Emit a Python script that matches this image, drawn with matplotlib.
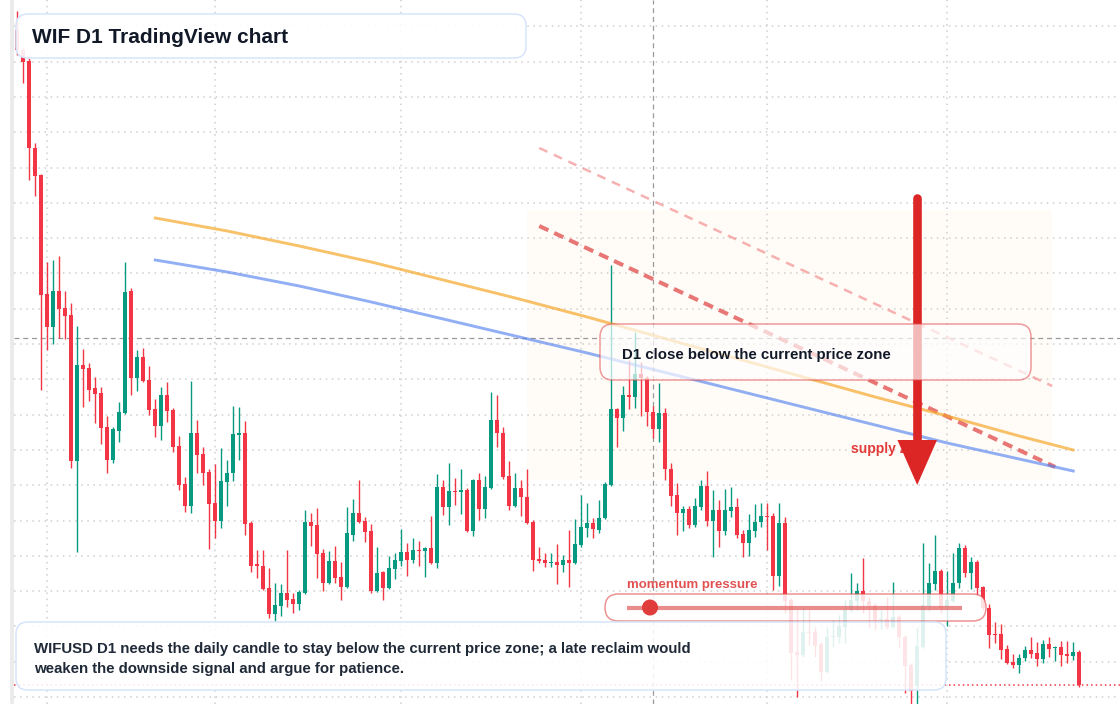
import numpy as np
import pandas as pd
import matplotlib
matplotlib.use('Agg')
from matplotlib import pyplot as plt
from matplotlib.lines import Line2D
from matplotlib.patches import Circle, FancyBboxPatch, Rectangle

plt.rcParams['font.family'] = ['Liberation Sans', 'DejaVu Sans']

# WIFUSD daily candles, prices in 0.001 USD, first candle 2025-01-27
start_day = '2025-01-27'
opens = [970,950,939,852,825,706,673,709,692,685,
         539,635,632,612,607,573,540,569,587,709,
         622,643,620,591,574,605,590,554,516,494,
         567,546,528,497,479,518,527,565,567,477,
         436,434,412,386,394,407,401,396,407,478,
         475,447,417,439,423,413,465,487,479,469,
         409,428,412,431,439,448,440,450,449,452,
         437,513,493,509,508,510,469,520,491,512,
         580,567,524,494,512,503,478,441,440,437,
         438,435,440,437,455,472,477,470,482,515,
         591,582,605,603,626,622,588,571,587,531,
         505,487,491,475,493,514,479,490,469,489,
         493,466,457,469,478,484,484,424,477,400,
         348,345,368,368,356,328,363,363,373,390,
         399,409,399,395,380,381,373,383,363,335,
         314,353,394,416,429,393,399,417,452,427,
         438,413,392,366,366,351,338,335,342,350,
         347,341,356,352,353,346,344,348]
highs = [989,952,942,857,826,738,740,744,709,697,
         674,651,637,623,613,584,573,598,738,712,
         650,652,634,601,613,618,592,564,523,619,
         580,553,531,536,552,540,594,593,579,479,
         450,450,432,417,416,450,407,410,490,487,
         492,451,449,454,438,493,501,520,483,476,
         453,429,444,447,471,457,462,459,453,484,
         526,520,537,522,531,512,521,527,524,608,
         605,573,539,527,520,531,480,453,447,447,
         456,445,470,481,505,497,482,500,518,735,
         592,614,640,668,638,624,594,617,592,537,
         517,494,494,502,520,529,510,500,511,513,
         502,470,486,496,497,497,487,497,483,402,
         390,393,390,373,358,373,380,385,400,427,
         417,442,403,397,390,403,418,385,365,337,
         373,457,437,465,431,429,447,457,455,443,
         440,414,396,378,376,355,346,346,354,363,
         358,360,363,354,359,359,358,350]
lows = [945,917,820,804,610,650,656,662,661,532,
        448,593,599,577,556,527,537,558,586,605,
        609,618,585,563,560,578,548,510,488,487,
        527,515,451,462,472,494,519,540,465,428,
        422,410,382,379,384,393,387,390,406,454,
        422,409,416,417,400,412,459,477,458,407,
        408,400,411,421,434,424,437,434,423,436,
        432,485,475,495,486,468,464,480,482,511,
        553,521,490,493,484,476,429,437,433,433,
        416,428,413,436,453,463,462,467,481,514,
        553,569,591,592,584,574,562,558,520,494,
        465,469,472,473,490,474,443,453,465,483,
        462,443,444,463,473,450,410,414,387,320,
        303,343,355,343,319,327,353,357,357,388,
        390,387,372,370,371,371,372,353,307,290,
        290,352,389,410,387,374,398,412,423,411,
        405,390,352,357,341,336,332,327,339,342,
        334,337,343,339,334,337,340,313]
closes = [950,938,852,824,705,673,709,691,684,539,
          635,631,610,606,572,540,571,588,708,622,
          643,619,590,574,605,589,553,515,494,567,
          545,527,496,479,519,527,566,567,476,434,
          434,411,386,395,407,400,396,408,478,474,
          446,417,439,422,413,467,487,478,468,409,
          427,412,432,440,448,440,450,449,452,437,
          513,493,509,508,510,469,520,491,513,580,
          567,523,494,512,503,477,440,439,437,438,
          435,440,437,456,473,477,471,482,516,591,
          582,605,603,626,622,588,571,587,531,504,
          487,491,475,494,514,479,490,469,490,493,
          465,457,470,478,484,483,424,477,399,347,
          345,368,367,354,328,363,364,374,390,400,
          409,399,394,380,381,373,383,363,334,309,
          354,395,417,429,392,400,417,452,427,438,
          412,392,365,365,350,337,335,342,350,346,
          341,356,351,353,345,344,348,315]

# moving averages read every 12 candles
ma_idx = [23, 35, 47, 59, 71, 83, 95, 107, 119, 131, 143, 155, 167, 176]
ma_orange = [782, 769, 754, 738, 720, 702, 683, 663, 643, 623, 603, 584, 564, 550]
ma_blue = [740, 728, 714, 698, 681, 664, 647, 629, 611, 593, 575, 557, 541, 529]

# descending trend lines and supply zone
trend_idx = [87, 173]
trend_main = [774, 533]
trend_outer_idx = [87, 172.5]
trend_outer = [852, 614]
zone_idx = [85, 172.5]
zone_price = [520, 790]
arrow_idx = 150
arrow_price = [802, 515]
cross_idx = 106
cross_price = 662

W, H = 1120, 704
UP, DOWN = '#089981', '#f23645'

o = np.array(opens) / 1000
h = np.array(highs) / 1000
l = np.array(lows) / 1000
c = np.array(closes) / 1000
x = np.arange(len(o))
days = pd.date_range(start_day, periods=len(o))

fig = plt.figure(figsize=(W / 100, H / 100), dpi=100)
fig.patch.set_facecolor('white')
ax = fig.add_axes([14 / W, 0, 1 - 14 / W, 1])
ax.set_xlim(-0.55, 183.8)
ax.set_ylim(0.296, 1.0)
ax.set_xticks([])
ax.set_yticks([])
for s in ax.spines.values():
    s.set_visible(False)

# grid: month starts and price levels
grid_kw = dict(color='#cfcfcf', linestyle=(0, (1, 3)), lw=1.1, zorder=0.5)
for i in x[days.day == 1]:
    ax.axvline(i, **grid_kw)
for p in np.arange(0.9736, 0.29, -0.0353):
    ax.axhline(p, **grid_kw)

ax.add_patch(Rectangle((zone_idx[0], zone_price[0] / 1000), zone_idx[1] - zone_idx[0],
                       (zone_price[1] - zone_price[0]) / 1000,
                       facecolor='#fffbf7', lw=0, zorder=0.4))

# crosshair + last price
ax.axvline(cross_idx, color='#9a9a9a', lw=0.9, linestyle=(0, (4, 3)), zorder=1)
ax.axhline(cross_price / 1000, color='#9a9a9a', lw=0.9, linestyle=(0, (4, 3)), zorder=1)
ax.axhline(c[-1], color=DOWN, lw=1.1, linestyle=(0, (1, 2)), zorder=1)

# candles
cols = np.where(c >= o, UP, DOWN)
ax.vlines(x, l, h, colors=cols, lw=1.0, zorder=2)
ax.bar(x, np.maximum(np.abs(c - o), 0.0015), width=0.72, bottom=np.minimum(o, c),
       color=cols, lw=0, zorder=2.1)

# trend lines, MAs
ax.plot(trend_outer_idx, np.array(trend_outer) / 1000, color='#f08080', alpha=0.6,
        lw=1.8, linestyle=(0, (3.6, 2.8)), zorder=3)
ax.plot(trend_idx, np.array(trend_main) / 1000, color='#e04a4a', alpha=0.75,
        lw=2.9, linestyle=(0, (2.5, 1.6)), zorder=3)
ax.plot(ma_idx, np.array(ma_orange) / 1000, color='#f5a524', alpha=0.68, lw=2.1, zorder=3.1)
ax.plot(ma_idx, np.array(ma_blue) / 1000, color='#4f7fef', alpha=0.62, lw=2.1, zorder=3.1)

ax.text(139, 0.5465, 'supply zone', color='#e23a3a', fontsize=10, fontweight='bold',
        va='baseline', zorder=4)

# red arrow
top, tip = arrow_price[0] / 1000, arrow_price[1] / 1000
ax.plot([arrow_idx, arrow_idx], [top, tip + 0.046], color='#dc2626', lw=6.2,
        solid_capstyle='round', zorder=5)
ax.fill([arrow_idx - 3.3, arrow_idx + 3.3, arrow_idx], [tip + 0.045, tip + 0.045, tip],
        color='#dc2626', lw=0, zorder=5)


def card(x0, y0, x1, y1, edge, face_alpha, r=12, lw=1.1):
    fig.add_artist(FancyBboxPatch((x0 / 100, (H - y1) / 100), (x1 - x0) / 100, (y1 - y0) / 100,
                                  boxstyle=f'round,pad=0,rounding_size={r / 100}',
                                  transform=fig.dpi_scale_trans, facecolor=(1, 1, 1, face_alpha),
                                  edgecolor=edge, lw=lw, zorder=3))


def label(px, py, s, **kw):
    fig.text(px / W, 1 - py / H, s, va='baseline', zorder=4, **kw)


# left strip
fig.add_artist(Rectangle((10 / W, 0), 4 / W, 1, transform=fig.transFigure,
                         facecolor='#ebebeb', lw=0, zorder=2))

card(16, 14, 526, 58, '#d6e4fb', 0.9)
label(32, 43, 'WIF D1 TradingView chart', fontsize=15, fontweight='bold', color='#111827')

card(600, 324, 1031, 380, (0.88, 0.29, 0.29, 0.55), 0.68, r=13)
label(622, 359, 'D1 close below the current price zone', fontsize=10.8,
      fontweight='bold', color='#111827')

card(605, 594, 986, 621, (0.88, 0.29, 0.29, 0.6), 0.85, r=13.5)
fig.add_artist(Line2D([627 / 100, 962 / 100], [(H - 607.5) / 100] * 2, transform=fig.dpi_scale_trans,
                      color='#e25b5b', alpha=0.7, lw=3, solid_capstyle='butt', zorder=4))
fig.add_artist(Circle((650 / 100, (H - 607.5) / 100), 0.073, transform=fig.dpi_scale_trans,
                      color='#e03c3c', zorder=4.5))
label(627, 588, 'momentum pressure', fontsize=9.5, fontweight='bold', color='#e05252')

card(16, 622, 946, 690, '#d6e4fb', 0.88)
label(34, 653, 'WIFUSD D1 needs the daily candle to stay below the current price zone; a late reclaim would',
      fontsize=10.8, fontweight='bold', color='#1f2937')
label(34, 673, 'weaken the downside signal and argue for patience.',
      fontsize=10.8, fontweight='bold', color='#1f2937')

fig.savefig('out.png', dpi=100, facecolor='white')
